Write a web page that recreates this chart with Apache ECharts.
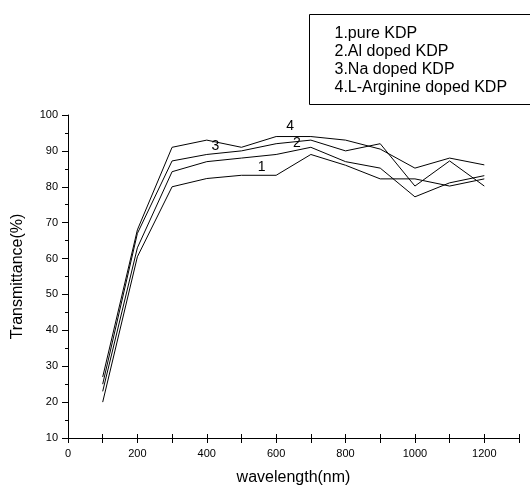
<!DOCTYPE html>
<html>
<head>
<meta charset="utf-8">
<script src="https://cdn.jsdelivr.net/npm/echarts@6/dist/echarts.min.js"></script>
<style>
html,body{margin:0;padding:0;background:#fff;}
#chart{width:530px;height:486px;}
</style>
</head>
<body>
<div id="chart"></div>
<script>
var wavelengths = [100, 200, 300, 400, 500, 600, 700, 800, 900, 1000, 1100, 1200];
var pureKDP      = [20, 60.5, 80, 82.3, 83.2, 83.2, 89, 86, 82.2, 82.2, 80.2, 82.2];
var alKDP        = [23, 63, 84.2, 87, 88, 89, 91, 87, 85.2, 77.2, 81.1, 83.1];
var naKDP        = [25, 67, 87.2, 89, 90, 92, 93, 90, 92, 80.2, 87.2, 80.2];
var argKDP       = [27, 68, 91, 93, 91, 94, 94, 93, 90.5, 85.2, 88, 86.1];
var seriesNames  = ['1.pure KDP', '2.Al doped KDP', '3.Na doped KDP', '4.L-Arginine doped KDP'];
var curveLabels  = ['1', '2', '3', '4'];
var labelX       = [558, 660, 425, 640];
var labelY       = [85.6, 92.2, 91.3, 96.8];
var xTicks = [0, 200, 400, 600, 800, 1000, 1200];
var yTicks = [10, 20, 30, 40, 50, 60, 70, 80, 90, 100];

var font = 'Arial, "Liberation Sans", sans-serif';
var allValues = [pureKDP, alKDP, naKDP, argKDP];

function pairs(arr) {
  return wavelengths.map(function (w, i) { return [w, arr[i]]; });
}

var series = allValues.map(function (vals, k) {
  return {
    name: seriesNames[k],
    type: 'line',
    data: pairs(vals),
    showSymbol: false,
    symbol: 'none',
    silent: true,
    animation: false,
    lineStyle: { color: '#000', width: 1 },
    markPoint: {
      symbol: 'circle', symbolSize: 0, silent: true, animation: false,
      label: { show: true, position: 'inside', formatter: curveLabels[k], color: '#000',
               fontFamily: font, fontSize: 14 },
      data: [{ coord: [labelX[k], labelY[k]] }]
    }
  };
});
series.push({ type: 'line', xAxisIndex: 1, data: [], silent: true });

var chart = echarts.init(document.getElementById('chart'), null, { renderer: 'canvas' });
chart.setOption({
  animation: false,
  backgroundColor: '#fff',
  grid: { left: 68, right: 11, top: 115, bottom: 48, containLabel: false, outerBoundsMode: 'none' },
  xAxis: [{
    type: 'value', min: 0, max: 1300, interval: 100,
    name: 'wavelength(nm)', nameLocation: 'middle', nameGap: 32,
    nameTextStyle: { fontFamily: font, fontSize: 16, color: '#000' },
    axisLine: { show: true, onZero: false, lineStyle: { color: '#000', width: 1 } },
    axisTick: { show: true, inside: false, length: 5, lineStyle: { color: '#000' } },
    axisLabel: { color: '#000', fontFamily: font, fontSize: 11, margin: 10,
                 formatter: function (v) { return xTicks.indexOf(v) >= 0 ? String(v) : ''; } },
    splitLine: { show: false }
  }, {
    type: 'value', min: 0, max: 1300, interval: 100, position: 'bottom',
    axisLine: { show: false },
    axisTick: { show: true, inside: true, length: 4, lineStyle: { color: '#000' } },
    axisLabel: { show: false },
    splitLine: { show: false }
  }],
  yAxis: {
    type: 'value', min: 10, max: 100, interval: 10,
    name: 'Transmittance(%)', nameLocation: 'middle', nameGap: 42,
    nameTextStyle: { fontFamily: font, fontSize: 16, color: '#000' },
    axisLine: { show: true, lineStyle: { color: '#000', width: 1 } },
    axisTick: { show: true, inside: false, length: 6, lineStyle: { color: '#000' } },
    minorTick: { show: true, splitNumber: 2, length: 3, lineStyle: { color: '#000' } },
    axisLabel: { color: '#000', fontFamily: font, fontSize: 11, margin: 10,
                 formatter: function (v) { return yTicks.indexOf(v) >= 0 ? String(v) : ''; } },
    splitLine: { show: false }
  },
  graphic: [{
    type: 'group', left: 309, top: 14, silent: true,
    children: [
      { type: 'rect', shape: { x: 0, y: 0, width: 230, height: 90 },
        style: { fill: '#fff', stroke: '#000', lineWidth: 1 } }
    ].concat(seriesNames.map(function (n, i) {
      return { type: 'text', x: 25, y: 19 + i * 18,
               style: { text: n, fill: '#000', font: '16px ' + font, textVerticalAlign: 'middle' } };
    }))
  }],
  series: series
});
</script>
</body>
</html>
